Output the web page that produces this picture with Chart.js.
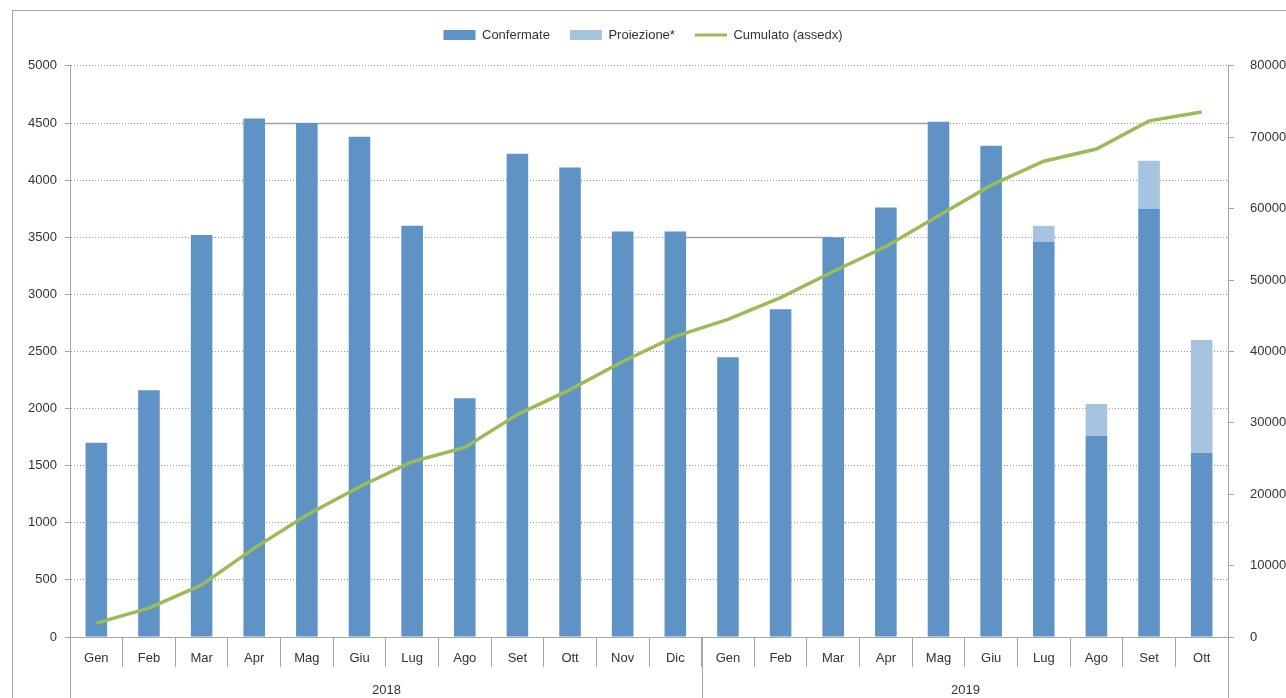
<!DOCTYPE html>
<html><head><meta charset="utf-8">
<script src="https://cdn.jsdelivr.net/npm/chart.js@4/dist/chart.umd.min.js"></script>
<style>
html,body{margin:0;padding:0;background:#fff;overflow:hidden}
#frame{position:absolute;left:12px;top:10px;width:1400px;height:800px;border-left:1px solid #a6a6a6;border-top:1px solid #a6a6a6}
#wrap{position:absolute;left:0;top:0;width:1286px;height:698px}
</style></head><body>
<div id="frame"></div>
<div id="wrap"><canvas id="c" width="1286" height="698"></canvas></div>
<script>
// ---- data ----
const months = ['Gen','Feb','Mar','Apr','Mag','Giu','Lug','Ago','Set','Ott','Nov','Dic',
                'Gen','Feb','Mar','Apr','Mag','Giu','Lug','Ago','Set','Ott'];
const years = ['2018','2019'];
const monthsPerYear = [12, 10];
const confermate = [1700,2160,3520,4540,4500,4380,3600,2090,4230,4110,3550,3550,
                    2450,2870,3500,3760,4510,4300,3460,1760,3750,1610];
const proiezione = [null,null,null,null,null,null,null,null,null,null,null,null,
                    null,null,null,null,null,null,140,280,420,990];
const cumulato = [1950,4050,7300,12450,17100,21050,24550,26550,31150,34650,38600,42100,
                  44500,47550,51200,54700,59000,63300,66650,68350,72300,73550];
const leftTicks = {min:0, max:5000, step:500};
const rightTicks = {min:0, max:80000, step:10000};
const refLines = [{from:3, to:16, value:4500}, {from:11, to:14, value:3500}];

const FONT = 'Liberation Sans, Arial, sans-serif';
const TXT = '#333333';
const GRAY = '#a6a6a6';

const yearRows = {
  id:'yearRows',
  afterDraw(chart){
    const x = chart.scales.x, ctx = chart.ctx;
    const half = (x.getPixelForValue(1) - x.getPixelForValue(0)) / 2;
    let start = 0;
    ctx.save();
    ctx.strokeStyle = GRAY; ctx.lineWidth = 1;
    ctx.fillStyle = TXT; ctx.font = '13px ' + FONT;
    ctx.textAlign = 'center'; ctx.textBaseline = 'middle';
    monthsPerYear.forEach((n, gi) => {
      const l = Math.round(x.getPixelForValue(start) - half) + 0.5;
      const r = Math.round(x.getPixelForValue(start + n - 1) + half) + 0.5;
      [l, r].forEach(px => { ctx.beginPath(); ctx.moveTo(px, x.top); ctx.lineTo(px, chart.height); ctx.stroke(); });
      ctx.fillText(years[gi], (l + r) / 2, 690);
      start += n;
    });
    ctx.restore();
  }
};
const refLinePlugin = {
  id:'refLinePlugin',
  beforeDatasetsDraw(chart){
    const x = chart.scales.x, y = chart.scales.y, ctx = chart.ctx;
    ctx.save();
    ctx.strokeStyle = '#a0a0a0'; ctx.lineWidth = 1.6;
    refLines.forEach(r => {
      const py = Math.round(y.getPixelForValue(r.value)) + 0.5;
      ctx.beginPath();
      ctx.moveTo(x.getPixelForValue(r.from), py);
      ctx.lineTo(x.getPixelForValue(r.to), py);
      ctx.stroke();
    });
    ctx.restore();
  }
};
const plainNum = v => String(v);

new Chart(document.getElementById('c'), {
  data: {
    labels: months,
    datasets: [
      {type:'bar', label:'Confermate', data:confermate, backgroundColor:'#5f93c6', yAxisID:'y', order:1,
       barPercentage:0.41, categoryPercentage:1},
      {type:'bar', label:'Proiezione*', data:proiezione, backgroundColor:'#a6c3e0', yAxisID:'y', order:1,
       barPercentage:0.41, categoryPercentage:1},
      {type:'line', label:'Cumulato (assedx)', data:cumulato, borderColor:'#9bbb59', backgroundColor:'#9bbb59',
       borderWidth:3.5, pointRadius:0, tension:0, yAxisID:'y1', order:0}
    ]
  },
  options: {
    responsive:false, animation:false,
    layout:{padding:{top:8.5, left:0, right:0, bottom:0}},
    plugins:{
      tooltip:{enabled:false},
      title:{display:true, text:'', weight:500, padding:{top:0,bottom:0}, font:{size:12}},
      legend:{
        position:'top',
        labels:{
          usePointStyle:true, pointStyleWidth:32, boxHeight:10, padding:20,
          font:{family:FONT, size:13}, color:TXT,
          sort:(a,b)=>a.datasetIndex-b.datasetIndex,
          generateLabels(chart){
            const items = Chart.defaults.plugins.legend.labels.generateLabels(chart);
            items.forEach(it => {
              const ds = chart.data.datasets[it.datasetIndex];
              if (ds.type === 'line') { it.pointStyle='line'; it.lineWidth=3; it.strokeStyle=ds.borderColor; }
              else { it.pointStyle='rect'; it.lineWidth=0; it.fillStyle=ds.backgroundColor; it.strokeStyle=ds.backgroundColor; }
            });
            return items;
          }
        }
      }
    },
    scales:{
      x:{
        stacked:true,
        afterFit(s){ s.height = 61; },
        grid:{display:true, drawOnChartArea:false, drawTicks:true, tickLength:30, offset:true, color:GRAY, tickColor:GRAY},
        border:{display:true, color:GRAY, width:1},
        ticks:{font:{family:FONT, size:13}, color:TXT, padding:-16, maxRotation:0, autoSkip:false}
      },
      y:{
        position:'left', stacked:true, min:leftTicks.min, max:leftTicks.max,
        afterFit(s){ s.width = 70; },
        ticks:{stepSize:leftTicks.step, font:{family:FONT, size:13}, color:TXT, padding:8, callback:plainNum},
        grid:{color:'#9a9a9a', lineWidth:1, tickLength:5, tickColor:GRAY, tickBorderDash:[], drawTicks:true},
        border:{display:true, color:GRAY, width:1, dash:[1,2]}
      },
      y1:{
        position:'right', stacked:false, min:rightTicks.min, max:rightTicks.max,
        afterFit(s){ s.width = 58; },
        ticks:{stepSize:rightTicks.step, font:{family:FONT, size:13}, color:TXT, padding:16, callback:plainNum},
        grid:{drawOnChartArea:false, tickLength:6, color:GRAY, tickColor:GRAY},
        border:{display:true, color:GRAY, width:1}
      }
    }
  },
  plugins:[yearRows, refLinePlugin]
});
</script>
</body></html>
